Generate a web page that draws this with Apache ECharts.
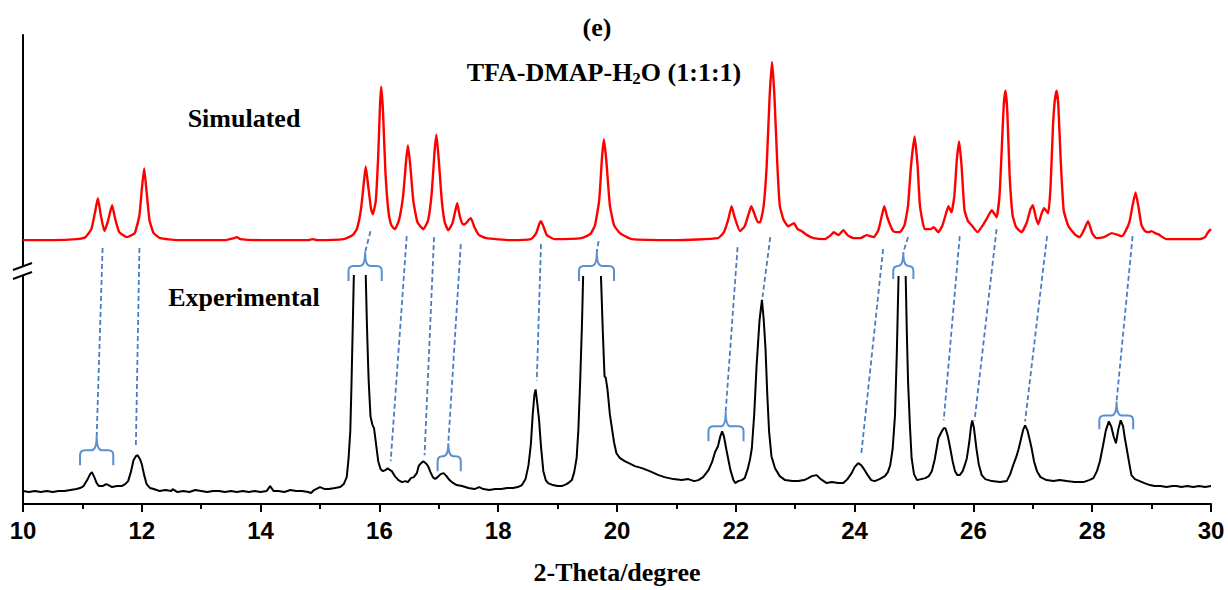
<!DOCTYPE html>
<html>
<head>
<meta charset="utf-8">
<script src="https://cdn.jsdelivr.net/npm/echarts@6/dist/echarts.min.js"></script>
<style>
html,body{margin:0;padding:0;background:#fff;}
#chart{width:1228px;height:590px;}
</style>
</head>
<body>
<div id="chart"></div>
<script>
// x tick labels (2-Theta, degree)
const xTicks = [10, 12, 14, 16, 18, 20, 22, 24, 26, 28, 30];

// Simulated pattern [2-theta, intensity (offset, arbitrary units)]
const simulated = [
[10.00,265],[10.50,265],[10.90,266],[11.05,268],[11.15,276],[11.21,292],[11.26,307],[11.31,290],[11.37,274],[11.43,284],[11.50,300],[11.55,287],[11.62,273],[11.75,268],[11.88,272],[11.96,290],[12.00,316],[12.04,337],[12.08,314],[12.13,285],[12.20,272],[12.31,267],[12.60,265],[13.40,265],[13.55,267],[13.60,268],[13.66,266],[14.00,265],[14.80,265],[14.88,266],[14.95,265],[15.40,266],[15.55,270],[15.62,276],[15.69,296],[15.74,324],[15.77,339],[15.81,320],[15.86,296],[15.89,291],[15.94,305],[15.98,350],[16.01,400],[16.03,419],[16.06,395],[16.10,335],[16.15,295],[16.20,280],[16.26,276],[16.33,285],[16.40,310],[16.45,345],[16.48,360],[16.52,340],[16.57,305],[16.64,283],[16.74,276],[16.82,285],[16.88,312],[16.93,355],[16.96,371],[17.00,345],[17.05,305],[17.10,283],[17.16,275],[17.23,282],[17.28,295],[17.31,302],[17.35,290],[17.40,281],[17.44,281],[17.50,285],[17.54,287],[17.60,278],[17.68,270],[17.80,267],[18.20,265],[18.55,266],[18.64,272],[18.69,281],[18.72,284],[18.76,279],[18.82,270],[18.95,266],[19.40,267],[19.55,271],[19.63,280],[19.70,305],[19.75,350],[19.78,366],[19.82,345],[19.88,300],[19.95,280],[20.05,272],[20.25,266],[21.00,265],[21.70,267],[21.80,273],[21.87,285],[21.93,299],[21.98,288],[22.07,274],[22.15,279],[22.21,290],[22.26,299],[22.31,292],[22.37,283],[22.41,283],[22.47,300],[22.52,340],[22.57,410],[22.61,444],[22.65,410],[22.70,340],[22.74,300],[22.80,286],[22.88,279],[22.98,282],[23.04,276],[23.11,274],[23.20,270],[23.31,267],[23.50,266],[23.60,270],[23.65,273],[23.73,270],[23.81,275],[23.88,270],[23.98,267],[24.10,267],[24.20,270],[24.32,268],[24.40,275],[24.46,290],[24.50,299],[24.55,288],[24.65,274],[24.76,273],[24.84,280],[24.90,300],[24.95,340],[25.01,369],[25.06,340],[25.10,300],[25.18,276],[25.28,276],[25.33,278],[25.41,273],[25.48,280],[25.54,292],[25.58,299],[25.63,293],[25.68,310],[25.72,345],[25.76,364],[25.80,340],[25.85,295],[25.91,284],[25.97,280],[26.07,273],[26.16,280],[26.22,286],[26.31,295],[26.39,288],[26.44,310],[26.48,360],[26.51,400],[26.54,415],[26.57,395],[26.61,330],[26.66,290],[26.72,278],[26.81,273],[26.90,283],[26.96,296],[27.00,300],[27.05,288],[27.09,281],[27.15,292],[27.19,297],[27.26,292],[27.30,320],[27.34,380],[27.37,405],[27.40,415],[27.43,400],[27.47,345],[27.52,295],[27.60,279],[27.72,270],[27.79,268],[27.86,275],[27.93,284],[28.00,272],[28.07,267],[28.20,268],[28.33,272],[28.44,270],[28.50,269],[28.57,275],[28.63,284],[28.68,300],[28.73,313],[28.78,298],[28.83,280],[28.89,274],[28.95,273],[29.00,274],[29.06,272],[29.11,271],[29.25,266],[29.50,266],[29.81,266],[29.90,268],[29.95,273],[30.00,276]
];

// Experimental pattern [2-theta, intensity]; null = trace leaves the plot (peak cut off)
const experimental = [
[10.00,13],[10.10,12],[10.20,13],[10.30,12],[10.40,13],[10.50,12],[10.60,13],[10.70,13],[10.80,14],[10.90,15],[10.96,16],[11.02,18],[11.08,24],[11.13,30],[11.16,32],[11.20,27],[11.24,21],[11.28,18],[11.34,18],[11.40,20],[11.44,19],[11.50,17],[11.58,18],[11.66,18],[11.72,20],[11.77,23],[11.82,33],[11.86,44],[11.90,48],[11.93,49],[11.97,45],[12.00,40],[12.04,29],[12.08,20],[12.14,16],[12.20,15],[12.30,13],[12.40,14],[12.50,13],[12.52,15],[12.60,12],[12.70,13],[12.80,12],[12.90,14],[13.00,13],[13.10,12],[13.20,13],[13.30,13],[13.40,12],[13.50,13],[13.60,12],[13.70,13],[13.80,12],[13.90,13],[14.00,12],[14.10,13],[14.16,18],[14.22,13],[14.30,13],[14.40,12],[14.50,14],[14.60,13],[14.70,13],[14.80,12],[14.85,11],[14.90,14],[15.00,17],[15.08,15],[15.15,15],[15.25,16],[15.34,17],[15.40,20],[15.45,27],[15.48,45],[15.51,73],[15.53,120],[15.55,175],[15.57,230],[15.67,null],[15.77,230],[15.79,180],[15.81,140],[15.82,123],[15.85,88],[15.88,80],[15.91,76],[15.94,62],[15.98,43],[16.02,35],[16.06,33],[16.10,34],[16.14,36],[16.18,34],[16.21,33],[16.26,28],[16.32,24],[16.38,22],[16.44,23],[16.48,22],[16.53,26],[16.58,27],[16.63,31],[16.66,38],[16.70,41],[16.74,43],[16.78,41],[16.82,38],[16.86,32],[16.90,27],[16.94,25],[16.98,27],[17.03,30],[17.08,31],[17.13,28],[17.18,24],[17.22,22],[17.30,19],[17.39,18],[17.50,16],[17.60,15],[17.68,17],[17.75,15],[17.85,14],[17.95,15],[18.05,15],[18.15,16],[18.25,16],[18.33,17],[18.40,19],[18.46,25],[18.51,39],[18.55,60],[18.58,89],[18.61,110],[18.63,115],[18.66,100],[18.69,83],[18.72,58],[18.76,33],[18.80,24],[18.84,21],[18.92,19],[19.00,18],[19.07,18],[19.15,20],[19.20,22],[19.24,24],[19.28,32],[19.32,46],[19.35,75],[19.38,123],[19.41,180],[19.43,229],[19.58,null],[19.73,229],[19.76,175],[19.79,128],[19.81,127],[19.84,115],[19.88,90],[19.91,78],[19.95,62],[19.99,51],[20.05,46],[20.13,43],[20.20,41],[20.30,38],[20.42,36],[20.55,33],[20.70,29],[20.80,27],[20.95,25],[21.09,24],[21.20,25],[21.30,23],[21.37,24],[21.45,27],[21.54,34],[21.60,42],[21.65,52],[21.70,58],[21.74,68],[21.77,73],[21.80,68],[21.84,55],[21.87,46],[21.91,34],[21.96,24],[21.99,21],[22.04,23],[22.10,24],[22.15,26],[22.20,35],[22.24,45],[22.27,56],[22.31,90],[22.35,139],[22.40,185],[22.44,205],[22.47,185],[22.50,156],[22.53,110],[22.56,73],[22.60,48],[22.66,36],[22.74,28],[22.83,24],[22.95,23],[23.05,23],[23.15,24],[23.22,26],[23.28,28],[23.36,29],[23.43,25],[23.53,21],[23.62,22],[23.72,21],[23.81,21],[23.88,25],[23.95,31],[24.00,37],[24.06,41],[24.11,39],[24.17,34],[24.22,29],[24.28,24],[24.34,23],[24.42,25],[24.51,28],[24.56,32],[24.60,39],[24.64,55],[24.68,89],[24.71,150],[24.74,229],[24.80,null],[24.86,229],[24.88,170],[24.90,123],[24.93,80],[24.96,46],[25.00,30],[25.05,24],[25.12,25],[25.19,26],[25.25,28],[25.30,33],[25.35,45],[25.41,66],[25.46,72],[25.50,76],[25.53,76],[25.57,68],[25.61,56],[25.65,43],[25.69,33],[25.73,29],[25.77,29],[25.82,33],[25.86,40],[25.89,46],[25.93,62],[25.96,78],[25.98,84],[26.01,76],[26.05,56],[26.09,40],[26.14,29],[26.20,25],[26.31,23],[26.45,22],[26.56,23],[26.62,30],[26.67,39],[26.72,47],[26.76,55],[26.80,65],[26.84,75],[26.87,79],[26.91,74],[26.95,64],[26.98,56],[27.02,43],[27.07,33],[27.13,27],[27.23,24],[27.35,23],[27.45,24],[27.57,23],[27.70,22],[27.85,22],[27.95,24],[28.02,26],[28.08,33],[28.13,43],[28.18,58],[28.23,74],[28.28,83],[28.32,78],[28.36,68],[28.40,61],[28.44,75],[28.48,84],[28.52,78],[28.55,66],[28.58,56],[28.62,42],[28.66,29],[28.72,25],[28.80,23],[28.88,21],[28.97,19],[29.05,18],[29.15,18],[29.25,17],[29.35,18],[29.42,18],[29.50,17],[29.60,18],[29.70,17],[29.80,18],[29.90,17],[30.00,18]
];

// Peak correspondence lines: [2theta sim end, intensity, 2theta exp end, intensity]
const connectors = [
[11.34,257,11.24,68],[11.96,257,11.90,58],[15.85,274,15.76,253],[16.46,269,16.19,43],
[16.92,268,16.76,49],[17.37,261,17.16,61],[18.72,261,18.65,124],[19.69,264,19.66,253],
[22.03,258,21.83,93],[22.58,268,22.45,208],[24.48,256,24.11,49],[24.90,268,24.82,253],
[25.77,269,25.50,84],[26.39,276,26.02,84],[27.24,269,26.87,83],[28.68,269,28.41,103]
];

// Brace groupings: [left 2theta, centre 2theta, right 2theta, end intensity, bar intensity, tip intensity]
const braces = [
[10.96,11.24,11.52,39,54,68],[15.48,15.76,16.04,224,239,253],[16.98,17.16,17.37,33,48,61],
[19.36,19.66,19.95,224,239,253],[21.54,21.83,22.13,63,78,93],[24.65,24.82,24.99,226,239,253],
[28.12,28.41,28.69,75,89,103]
];

const chart = echarts.init(document.getElementById('chart'), null, {renderer: 'svg'});
const SERIF = '"Liberation Serif","Times New Roman",serif';
const SANS = '"Liberation Sans",Arial,sans-serif';

const option = {
  animation: false,
  backgroundColor: '#ffffff',
  grid: {left: 23, right: 17, top: 35, bottom: 84, containLabel: false},
  xAxis: {
    type: 'value', min: xTicks[0], max: xTicks[xTicks.length - 1], interval: 2,
    name: '2-Theta/degree', nameLocation: 'middle', nameGap: 55,
    nameTextStyle: {fontFamily: SERIF, fontWeight: 'bold', fontSize: 26, color: '#000'},
    axisLine: {show: true, onZero: false, lineStyle: {color: '#000', width: 2}},
    axisTick: {show: true, inside: false, length: 8, lineStyle: {color: '#000', width: 2}},
    minorTick: {show: true, splitNumber: 2, length: 5, lineStyle: {color: '#000', width: 2}},
    axisLabel: {fontFamily: SANS, fontWeight: 'bold', fontSize: 24, color: '#000', margin: 14},
    splitLine: {show: false}
  },
  yAxis: {
    type: 'value', min: 0, max: 471,
    axisLine: {show: true, lineStyle: {color: '#000', width: 2}},
    axisTick: {show: false}, axisLabel: {show: false}, splitLine: {show: false}
  },
  graphic: [
    {type: 'text', x: 597, y: 27, style: {text: '(e)', font: 'bold 26px ' + SERIF, fill: '#000', align: 'center', verticalAlign: 'middle'}},
    {type: 'text', x: 604, y: 72, style: {
      text: '{a|TFA-DMAP-H}{b|2}{a|O (1:1:1)}', align: 'center', verticalAlign: 'middle',
      rich: {
        a: {fontFamily: SERIF, fontWeight: 'bold', fontSize: 26, lineHeight: 30, fill: '#000', color: '#000'},
        b: {fontFamily: SERIF, fontWeight: 'bold', fontSize: 17, lineHeight: 30, verticalAlign: 'bottom', fill: '#000', color: '#000'}
      }}},
    {type: 'text', x: 244, y: 118, style: {text: 'Simulated', font: 'bold 26px ' + SERIF, fill: '#000', align: 'center', verticalAlign: 'middle'}},
    {type: 'text', x: 244, y: 297, style: {text: 'Experimental', font: 'bold 26px ' + SERIF, fill: '#000', align: 'center', verticalAlign: 'middle'}},
    // axis break mark
    {type: 'rect', shape: {x: 19, y: 267, width: 8, height: 8}, style: {fill: '#fff'}, z: 100},
    {type: 'line', shape: {x1: 13, y1: 270, x2: 32, y2: 263}, style: {stroke: '#000', lineWidth: 2}, z: 101},
    {type: 'line', shape: {x1: 13, y1: 279, x2: 32, y2: 272}, style: {stroke: '#000', lineWidth: 2}, z: 101}
  ],
  series: [
    {
      name: 'Simulated', type: 'line', data: simulated, showSymbol: false, smooth: 0.15,
      lineStyle: {color: '#ff0000', width: 2.4}, itemStyle: {color: '#ff0000'}, z: 2
    },
    {
      name: 'Experimental', type: 'line', data: experimental, showSymbol: false, connectNulls: false,
      lineStyle: {color: '#000000', width: 2}, itemStyle: {color: '#000'}, z: 2
    },
    {
      name: 'connectors', type: 'custom', coordinateSystem: 'cartesian2d', data: connectors,
      encode: {x: [0, 2], y: [1, 3]}, clip: false, z: 3,
      renderItem: function (params, api) {
        const p1 = api.coord([api.value(0), api.value(1)]);
        const p2 = api.coord([api.value(2), api.value(3)]);
        return {type: 'line', shape: {x1: p1[0], y1: p1[1], x2: p2[0], y2: p2[1]},
          style: {stroke: '#4a7cc0', lineWidth: 1.8, lineDash: [5, 3], fill: null}};
      }
    },
    {
      name: 'braces', type: 'custom', coordinateSystem: 'cartesian2d', data: braces,
      encode: {x: [0, 1, 2], y: [3, 4, 5]}, clip: false, z: 4,
      renderItem: function (params, api) {
        const xL = api.coord([api.value(0), api.value(4)])[0];
        const xC = api.coord([api.value(1), api.value(4)])[0];
        const xR = api.coord([api.value(2), api.value(4)])[0];
        const yEnd = api.coord([api.value(1), api.value(3)])[1];
        const yBar = api.coord([api.value(1), api.value(4)])[1];
        const yTip = api.coord([api.value(1), api.value(5)])[1];
        const r = 5;
        const d = 'M' + xL + ' ' + yEnd + ' L' + xL + ' ' + (yBar + r) +
          ' Q' + xL + ' ' + yBar + ' ' + (xL + r) + ' ' + yBar +
          ' L' + (xC - r) + ' ' + yBar +
          ' Q' + xC + ' ' + yBar + ' ' + xC + ' ' + yTip +
          ' Q' + xC + ' ' + yBar + ' ' + (xC + r) + ' ' + yBar +
          ' L' + (xR - r) + ' ' + yBar +
          ' Q' + xR + ' ' + yBar + ' ' + xR + ' ' + (yBar + r) +
          ' L' + xR + ' ' + yEnd;
        return {type: 'path',
          shape: {pathData: d, x: xL, y: yTip, width: xR - xL, height: yEnd - yTip, layout: 'cover'},
          style: {stroke: '#5a8fd0', lineWidth: 2, fill: null}};
      }
    }
  ]
};
chart.setOption(option);
</script>
</body>
</html>
